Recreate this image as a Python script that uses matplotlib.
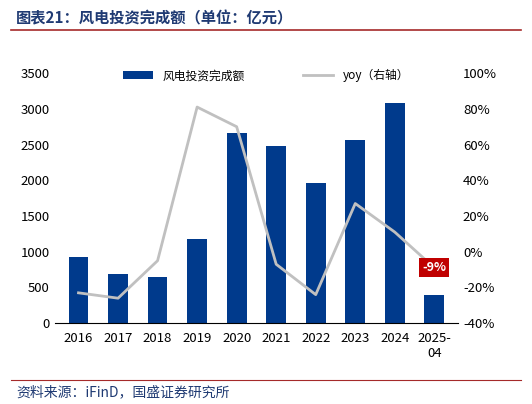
import matplotlib.pyplot as plt
from matplotlib.ticker import FuncFormatter
import matplotlib.lines as mlines

plt.rcParams['font.family'] = ['Noto Sans CJK SC', 'DejaVu Sans']

years = ['2016', '2017', '2018', '2019', '2020', '2021', '2022', '2023', '2024', '2025-\n04']
invest = [930, 690, 650, 1180, 2660, 2480, 1960, 2570, 3080, 390]
yoy = [-23, -26, -5, 81, 70, -7, -24, 27, 11, -9]

fig = plt.figure(figsize=(5.32, 4.04), dpi=100)
ax = fig.add_axes([0.103, 0.20, 0.758, 0.619])
x = range(len(years))
ax.bar(x, invest, width=0.5, color='#003A8C', label='风电投资完成额')
ax.set_ylim(0, 3500)
ax.set_yticks(range(0, 3501, 500))
ax.set_xlim(-0.6, len(years) - 0.4)
ax.set_xticks(list(x))
ax.set_xticklabels(years)
for s in ['top', 'right', 'left']:
    ax.spines[s].set_visible(False)
ax.tick_params(axis='both', length=0, labelsize=9.5)
ax.tick_params(axis='x', pad=6)

ax2 = ax.twinx()
ax2.plot(list(x), yoy, color='#C0C0C0', lw=2, label='yoy（右轴）')
ax2.set_ylim(-40, 100)
ax2.set_yticks(range(-40, 101, 20))
ax2.yaxis.set_major_formatter(FuncFormatter(lambda v, p: f'{int(v)}%'))
for s in ['top', 'right', 'left', 'bottom']:
    ax2.spines[s].set_visible(False)
ax2.tick_params(axis='y', length=0, labelsize=9.5)

ax2.text(9, yoy[-1], f'{yoy[-1]}%', color='white', fontsize=9, fontweight='bold',
         ha='center', va='center',
         bbox=dict(boxstyle='square,pad=0.25', fc='#C00000', ec='none'))

h1, l1 = ax.get_legend_handles_labels()
h2, l2 = ax2.get_legend_handles_labels()
fig.legend(h1 + h2, l1 + l2, loc='upper center', bbox_to_anchor=(0.5, 0.855),
           ncol=2, frameon=False, fontsize=8.5, columnspacing=5, handlelength=2.5)

fig.text(0.03, 0.955, '图表21：风电投资完成额（单位：亿元）', fontsize=11, style='italic',
         color='#1F3A73', fontweight='bold', va='center')
fig.add_artist(mlines.Line2D([0.02, 0.98], [0.925, 0.925], color='#A52A2A', lw=1.2))
fig.add_artist(mlines.Line2D([0.02, 0.98], [0.06, 0.06], color='#A52A2A', lw=0.8))
fig.text(0.03, 0.03, '资料来源：iFinD，国盛证券研究所', fontsize=10, style='italic',
         color='#1F3A73', va='center')

fig.savefig('out.png', dpi=100)
